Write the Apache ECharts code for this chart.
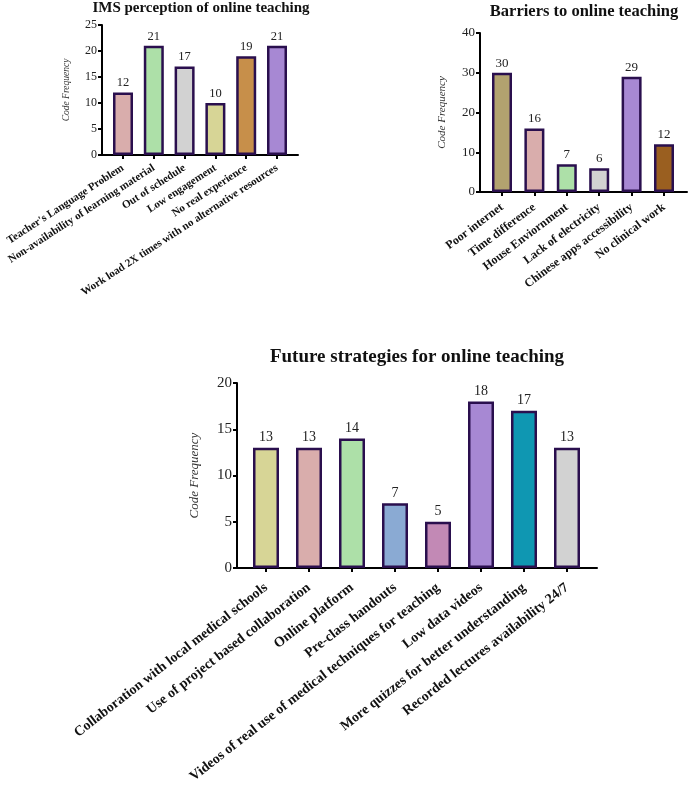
<!DOCTYPE html>
<html><head><meta charset="utf-8">
<script src="https://cdn.jsdelivr.net/npm/echarts@6/dist/echarts.min.js"></script>
<style>html,body{margin:0;padding:0;background:#fff}#c{width:693px;height:787px}</style>
</head><body><div id="c"></div>
<script>
var imsCategories = ["Teacher's Language Problem","Non-availability of learning material","Out of schedule","Low engagement","No real experience","Work load 2X times with no alternative resources"];
var imsValues = [12,21,17,10,19,21];
var imsColors = ['#d9adac','#ade0a8','#d2d2d2','#d7d596','#c78f4a','#a788d3'];

var barCategories = ["Poor internet","Time difference","House Enviornment","Lack of electricity","Chinese apps accessibility","No clinical work"];
var barValues = [30,16,7,6,29,12];
var barColors = ['#b2a26f','#d9adac','#ade0a8','#d2d2d2','#a788d3','#9a5f20'];

var futCategories = ["Collaboration with local medical schools","Use of project based collaboration","Online platform","Pre-class handouts","Videos of real use of medical techniques for teaching","Low data videos","More quizzes for better understanding","Recorded lectures availability 24/7"];
var futValues = [13,13,14,7,5,18,17,13];
var futColors = ['#d7d596','#d9adac','#ade0a8','#8aaad3','#c289b5','#a788d3','#0f97b2','#d2d2d2'];

var serif = '"Liberation Serif","DejaVu Serif",serif';
var border = '#2a0f4e';

var panels = [
  {cats:imsCategories, vals:imsValues, cols:imsColors, title:'IMS perception of online teaching',
   tx:201, ty:1, tfs:15,
   outer:{left:102,right:395,top:25,bottom:632}, inner:{left:107.6,right:400.6,top:25,bottom:632},
   max:25, interval:5, tickFs:12, nameFs:9.5, nameGap:31, xFs:11, rot:33, xm:12, bw:20, lfs:12.5},
  {cats:barCategories, vals:barValues, cols:barColors, title:'Barriers to online teaching',
   tx:584, ty:3, tfs:16.5,
   outer:{left:480,right:6,top:33,bottom:595}, inner:{left:485.8,right:12.8,top:33,bottom:595},
   max:40, interval:10, tickFs:13, nameFs:11, nameGap:32, xFs:12, rot:37, xm:14, bw:20, lfs:13},
  {cats:futCategories, vals:futValues, cols:futColors, title:'Future strategies for online teaching',
   tx:417, ty:348, tfs:19,
   outer:{left:237,right:96,top:383,bottom:219}, inner:{left:244.5,right:104.5,top:383,bottom:219},
   max:20, interval:5, tickFs:15, nameFs:13, nameGap:36, xFs:14, rot:38, xm:18, bw:26, lfs:14}
];

var grids=[], xAxes=[], yAxes=[], series=[], titles=[];
panels.forEach(function(p, k){
  var o = 2*k, n = 2*k+1;
  grids.push(p.outer); grids.push(p.inner);
  titles.push({text:p.title,left:p.tx,top:p.ty,textAlign:'center',padding:0,
    textStyle:{fontFamily:serif,fontWeight:'bold',fontSize:p.tfs,color:'#111'}});
  xAxes.push({type:'value',gridIndex:o,min:0,max:1,
    axisLine:{show:true,onZero:false,lineStyle:{color:'#000',width:2}},
    axisTick:{show:false},axisLabel:{show:false},splitLine:{show:false}});
  yAxes.push({type:'value',gridIndex:o,min:0,max:p.max,interval:p.interval,
    name:'Code Frequency',nameLocation:'middle',nameGap:p.nameGap,
    nameTextStyle:{fontFamily:serif,fontStyle:'italic',fontSize:p.nameFs,color:'#333'},
    splitLine:{show:false},
    axisLine:{show:true,lineStyle:{color:'#000',width:2}},
    axisTick:{show:true,length:4,lineStyle:{color:'#000',width:2}},
    axisLabel:{fontFamily:serif,fontSize:p.tickFs,color:'#222',margin:5}});
  xAxes.push({type:'category',gridIndex:n,data:p.cats,
    axisLine:{show:false},
    axisTick:{show:true,alignWithLabel:true,length:4,lineStyle:{color:'#000',width:2}},
    axisLabel:{interval:0,rotate:p.rot,fontFamily:serif,fontWeight:'bold',fontSize:p.xFs,color:'#111',margin:p.xm}});
  yAxes.push({type:'value',gridIndex:n,min:0,max:p.max,interval:p.interval,show:false});
  series.push({type:'bar',xAxisIndex:n,yAxisIndex:n,barWidth:p.bw,
    data:p.vals.map(function(v,i){return {value:v,itemStyle:{color:p.cols[i]}};}),
    itemStyle:{borderColor:border,borderWidth:2.5},
    label:{show:true,position:'top',distance:3,fontFamily:serif,fontSize:p.lfs,color:'#222'}});
});

var chart = echarts.init(document.getElementById('c'));
chart.setOption({animation:false,title:titles,grid:grids,xAxis:xAxes,yAxis:yAxes,series:series});
</script></body></html>
